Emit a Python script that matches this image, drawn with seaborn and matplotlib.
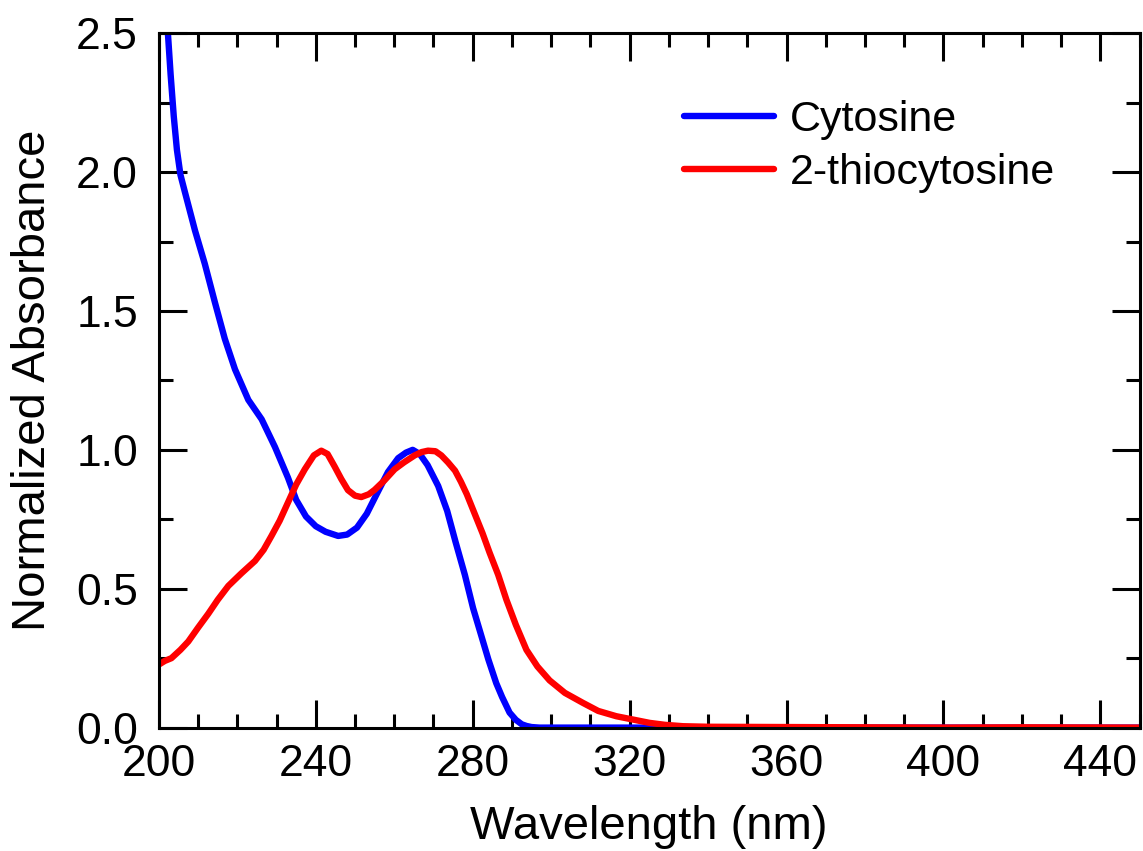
import numpy as np
import pandas as pd
import seaborn as sns
import matplotlib.pyplot as plt
from matplotlib.ticker import MultipleLocator

# ==============================
# DONNÉES
# ==============================
wl_cyt = [202.3, 203.0, 203.8, 204.6, 205.5, 206.6, 207.9, 209.2, 211.7, 214.3,
          216.8, 219.4, 222.8, 226.2, 229.6, 232.9, 235.0, 237.5, 240.0, 242.5,
          245.7, 248.0, 250.5, 253.0, 255.5, 258.4, 261.0, 263.0, 264.7, 266.5,
          268.5, 271.2, 273.5, 275.6, 278.0, 280.1, 282.0, 284.0, 286.0, 287.5,
          289.4, 291.0, 292.5, 293.7, 295.0, 297.0, 320, 360, 400, 450]
abs_cyt = [2.50, 2.35, 2.20, 2.08, 1.99, 1.93, 1.86, 1.79, 1.67, 1.53,
           1.40, 1.29, 1.18, 1.11, 1.01, 0.90, 0.82, 0.76, 0.725, 0.705,
           0.69, 0.695, 0.72, 0.77, 0.84, 0.92, 0.97, 0.99, 1.00, 0.985,
           0.945, 0.87, 0.78, 0.67, 0.55, 0.43, 0.34, 0.245, 0.16, 0.11,
           0.054, 0.028, 0.012, 0.006, 0.002, 0.0, 0.0, 0.0, 0.0, 0.0]

wl_thio = [200, 201.5, 203.2, 205.5, 207.5, 210.0, 212.6, 215.0, 217.7, 221.0,
           224.5, 226.7, 228.7, 230.8, 232.9, 235.0, 237.2, 239.5, 241.4, 243.0,
           244.8, 246.5, 248.2, 250.0, 251.6, 253.5, 255.0, 257.5, 260.1, 262.5,
           265.2, 267.0, 268.6, 270.5, 272.0, 273.7, 275.5, 277.0, 278.5, 280.5,
           282.5, 284.3, 286.5, 288.6, 291.0, 293.7, 296.5, 299.6, 303.5, 308.1,
           312.0, 316.6, 320.5, 325.1, 329.0, 333.6, 340, 360, 380, 400, 420, 450]
abs_thio = [0.227, 0.24, 0.25, 0.28, 0.31, 0.36, 0.41, 0.46, 0.51, 0.555,
            0.60, 0.64, 0.69, 0.745, 0.81, 0.875, 0.93, 0.98, 0.997, 0.985,
            0.94, 0.895, 0.855, 0.835, 0.83, 0.84, 0.856, 0.89, 0.93, 0.955,
            0.98, 0.992, 0.997, 0.995, 0.98, 0.955, 0.925, 0.885, 0.84, 0.77,
            0.70, 0.63, 0.55, 0.46, 0.37, 0.28, 0.22, 0.17, 0.125, 0.089,
            0.06, 0.041, 0.03, 0.017, 0.01, 0.005, 0.003, 0.002, 0.001, 0.0, 0.001, 0.0]

df = pd.concat([
    pd.DataFrame({"wl": wl_cyt, "A": abs_cyt, "s": "Cytosine"}),
    pd.DataFrame({"wl": wl_thio, "A": abs_thio, "s": "2-thiocytosine"}),
])

# ==============================
# FIGURE
# ==============================
sns.set_style("ticks")
plt.rcParams['font.family'] = ['Liberation Sans', 'DejaVu Sans']
plt.rcParams.update({'text.color': 'black', 'axes.labelcolor': 'black',
                     'xtick.color': 'black', 'ytick.color': 'black',
                     'axes.edgecolor': 'black'})

fig, ax = plt.subplots(figsize=(11.43, 8.51), dpi=100)
fig.subplots_adjust(left=0.139, right=0.997, top=0.961, bottom=0.145)

sns.lineplot(data=df, x="wl", y="A", hue="s",
             palette={"Cytosine": "#0000ff", "2-thiocytosine": "#ff0000"},
             linewidth=4.6, ax=ax, sort=False)

ax.set_xlim(200, 450)
ax.set_ylim(0, 2.5)
ax.xaxis.set_major_locator(MultipleLocator(40))
ax.xaxis.set_minor_locator(MultipleLocator(10))
ax.yaxis.set_major_locator(MultipleLocator(0.5))
ax.yaxis.set_minor_locator(MultipleLocator(0.25))
ax.yaxis.set_major_formatter(plt.FuncFormatter(lambda v, p: f"{v:.1f}"))

ax.tick_params(which='both', direction='in', top=True, right=True, width=2.2,
               labelsize=32, pad=12)
ax.tick_params(axis='y', pad=15)
ax.tick_params(which='major', length=20)
ax.tick_params(which='minor', length=10)
for sp in ax.spines.values():
    sp.set_linewidth(2.2)
    sp.set_visible(True)

ax.set_xlabel("Wavelength (nm)", fontsize=34, labelpad=14)
ax.set_ylabel("Normalized Absorbance", fontsize=34, labelpad=15)

leg = ax.legend(loc='upper right', bbox_to_anchor=(0.953, 0.96), frameon=False, fontsize=31,
                handlelength=2.1, handletextpad=0.35, labelspacing=0.32)
for line in leg.get_lines():
    line.set_linewidth(4.6)

plt.savefig("out.png", dpi=100)
